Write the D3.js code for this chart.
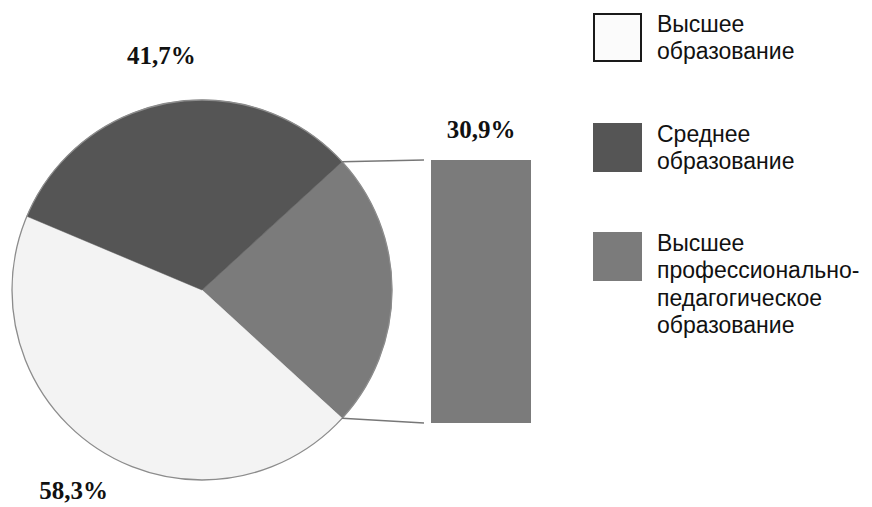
<!DOCTYPE html>
<html>
<head>
<meta charset="utf-8">
<script src="https://cdn.jsdelivr.net/npm/d3@7"></script>
<style>
  html, body { margin: 0; padding: 0; background: #ffffff; }
  svg { display: block; }
</style>
</head>
<body>
<svg id="chart" width="872" height="507"></svg>
<script>
// Education of staff: pie with the third share broken out into a bar
const categories = [
  "Высшее образование",
  "Среднее образование",
  "Высшее профессионально-педагогическое образование"
];
const values = [58.3, 41.7, 30.9];
const legendLines = [
  ["Высшее", "образование"],
  ["Среднее", "образование"],
  ["Высшее", "профессионально-", "педагогическое", "образование"]
];
const fills = ["#f3f3f3", "#555555", "#7b7b7b"];

const fmt = v => d3.format(".1f")(v).replace(".", ",") + "%";

const svg = d3.select("#chart");

// ---- pie ----
const cx = 202, cy = 290, R = 190;
const total = d3.sum(values);
const otherAngle = values[2] / total * 2 * Math.PI;
const startA = Math.PI / 2 - otherAngle / 2;   // broken-out slice faces the bar

// order around the circle: broken-out slice, then higher, then secondary
const order = [2, 0, 1];
const pie = d3.pie()
  .sort(null)
  .value(i => values[i])
  .startAngle(startA)
  .endAngle(startA + 2 * Math.PI);
const arcs = pie(order);

const arc = d3.arc().innerRadius(0).outerRadius(R);
const labelArc = d3.arc().innerRadius(238).outerRadius(238);

const g = svg.append("g").attr("transform", `translate(${cx},${cy})`);
g.selectAll("path.slice")
  .data(arcs)
  .join("path")
  .attr("class", "slice")
  .attr("d", arc)
  .attr("fill", d => fills[d.data])
  .attr("stroke", d => fills[d.data])
  .attr("stroke-width", 0.5);

g.append("circle")
  .attr("r", R)
  .attr("fill", "none")
  .attr("stroke", "#8c8c8c")
  .attr("stroke-width", 1.3);

// percentage labels for the two pie categories
g.selectAll("text.plabel")
  .data(arcs.filter(d => d.data !== 2))
  .join("text")
  .attr("class", "plabel")
  .attr("x", d => labelArc.centroid(d)[0])
  .attr("y", d => labelArc.centroid(d)[1])
  .attr("text-anchor", "middle")
  .attr("dominant-baseline", "central")
  .attr("font-family", "'Liberation Serif', 'Times New Roman', serif")
  .attr("font-weight", "bold")
  .attr("font-size", 25)
  .attr("fill", "#111")
  .text(d => fmt(values[d.data]));

// ---- bar for the broken-out share ----
const barX = 431, barW = 100;
const y = d3.scaleLinear().domain([0, values[2]]).range([423, 160]);

svg.append("rect")
  .attr("x", barX)
  .attr("y", y(values[2]))
  .attr("width", barW)
  .attr("height", y(0) - y(values[2]))
  .attr("fill", fills[2]);

svg.append("text")
  .attr("x", barX + barW / 2)
  .attr("y", y(values[2]) - 22)
  .attr("text-anchor", "middle")
  .attr("font-family", "'Liberation Serif', 'Times New Roman', serif")
  .attr("font-weight", "bold")
  .attr("font-size", 25)
  .attr("fill", "#111")
  .text(fmt(values[2]));

// connector lines from the slice edges to the bar
const other = arcs.find(d => d.data === 2);
const edgePt = a => [cx + R * Math.sin(a), cy - R * Math.cos(a)];
const [p1, p2] = [edgePt(other.startAngle), edgePt(other.endAngle)];
svg.append("line")
  .attr("x1", p1[0]).attr("y1", p1[1])
  .attr("x2", barX - 7).attr("y2", y(values[2]))
  .attr("stroke", "#777").attr("stroke-width", 1.5);
svg.append("line")
  .attr("x1", p2[0]).attr("y1", p2[1])
  .attr("x2", barX - 7).attr("y2", y(0))
  .attr("stroke", "#777").attr("stroke-width", 1.5);

// ---- legend ----
const legendTops = [13, 123, 232];
const leg = svg.append("g");
categories.forEach((c, i) => {
  const item = leg.append("g").attr("class", "legend-item");
  item.append("rect")
    .attr("x", i === 0 ? 594 : 593)
    .attr("y", legendTops[i] + (i === 0 ? 1 : 0))
    .attr("width", i === 0 ? 47 : 49)
    .attr("height", i === 0 ? 47 : 49)
    .attr("fill", i === 0 ? "#fbfbfb" : fills[i])
    .attr("stroke", i === 0 ? "#1a1a1a" : "none")
    .attr("stroke-width", 2);
  const t = item.append("text")
    .attr("font-family", "'Liberation Sans', Arial, sans-serif")
    .attr("font-size", 23)
    .attr("fill", "#111");
  legendLines[i].forEach((line, k) => {
    t.append("tspan")
      .attr("x", 657)
      .attr("y", legendTops[i] + 19 + k * 27.3)
      .text(line);
  });
});
</script>
</body>
</html>
